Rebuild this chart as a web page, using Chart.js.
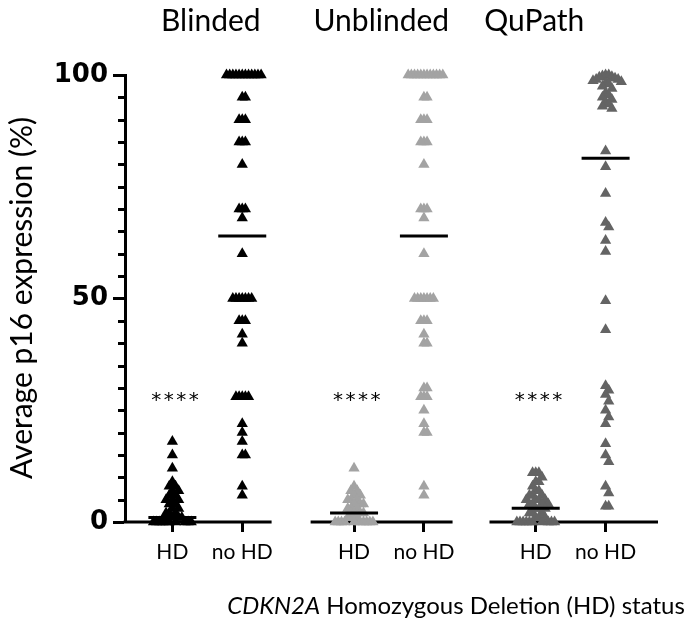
<!DOCTYPE html>
<html><head><meta charset="utf-8">
<script src="https://cdn.jsdelivr.net/npm/chart.js@4"></script>
<style>html,body{margin:0;padding:0;background:#fff}#wrap{width:685px;height:628px}</style>
</head><body><div id="wrap"><canvas id="c" width="685" height="628"></canvas></div>
<script>
// ---- data ----
const methods = ['Blinded', 'Unblinded', 'QuPath'];
const categories = ['HD', 'no HD'];
const yTickValues = [0, 50, 100];
const blindedHD = [18, 15, 12, 9, 8, 8, 7, 7, 6, 6, 5, 5, 5, 4, 4, 3, 3, 2, 2, 2, 1, 1, 1, 0, 0, 0, 0, 0, 0, 0, 0, 0, 0];
const blindedNoHD = [100, 100, 100, 100, 100, 100, 100, 100, 100, 100, 100, 100, 95, 95, 90, 90, 90, 85, 85, 85, 80, 70, 70, 70, 68, 60,
  50, 50, 50, 50, 50, 50, 50, 45, 45, 45, 42, 40, 28, 28, 28, 28, 28, 22, 20, 18, 15, 15, 8, 6];
const unblindedHD = [12, 8, 7, 7, 6, 6, 5, 5, 5, 4, 4, 4, 3, 3, 3, 2, 2, 2, 1, 1, 1, 0, 0, 0, 0, 0, 0, 0, 0, 0, 0];
const unblindedNoHD = [100, 100, 100, 100, 100, 100, 100, 100, 100, 100, 100, 100, 95, 95, 90, 90, 90, 85, 85, 85, 80, 70, 70, 70, 68, 60,
  50, 50, 50, 50, 50, 50, 50, 45, 45, 45, 42, 40, 40, 30, 30, 28, 28, 28, 25, 22, 20, 20, 8, 6];
const qupathHD = [11, 11, 11, 10, 9, 9, 8, 7, 7, 6, 6, 6, 5, 5, 5, 5, 4, 4, 4, 4, 3, 3, 3, 2, 2, 2, 1, 1, 1, 0, 0, 0, 0, 0, 0, 0, 0, 0, 0];
const qupathNoHD = [100, 100, 99.8, 99.6, 99.5, 99.3, 99, 99, 98.7, 98.5, 98.2, 98, 97.5, 97, 96, 95.5, 95, 94.5, 94, 93.5, 93, 92.5,
  83, 79.5, 73.5, 67, 66, 63, 60.5, 49.5, 43, 30.5, 29.5, 28.5, 27, 25, 23.5, 22, 17.5, 15, 13.5, 8, 6.5, 3.5, 3.5];
const medians = [1, 64, 2, 64, 3.1, 81.4];
const significance = ['****', '****', '****'];
const significanceLevel = 28;

// ---- layout / style ----
const xPos = [0, 1, 2.6, 3.6, 5.2, 6.2];
const axisSegments = [[-0.678, 1.42], [2.0, 4.01], [4.56, 6.95]];
const titleX = [0.55, 2.99, 5.18];
const colors = ['#000000', '#a3a3a3', '#646464'];
const series = [blindedHD, blindedNoHD, unblindedHD, unblindedNoHD, qupathHD, qupathNoHD];
const tickLabels = xPos.map((_, i) => categories[i % 2]);

function swarm(values, center) {
  const SLOT = 0.045, YTOL = 1.6;
  const sorted = values.slice().sort((a, b) => b - a);
  const placed = [];
  return sorted.map(v => {
    for (let i = 0; ; i++) {
      const slot = i === 0 ? 0 : (i % 2 === 1 ? (i + 1) / 2 : -(i / 2));
      if (!placed.some(p => p.slot === slot && Math.abs(p.v - v) < YTOL)) {
        placed.push({ slot, v });
        return { x: center + slot * SLOT, y: v };
      }
    }
  });
}

const datasets = [{
  label: 'median',
  data: medians.map((m, i) => ({ x: xPos[i], y: m })),
  pointStyle: 'line', pointRadius: 24, pointBorderWidth: 3,
  borderColor: '#000', backgroundColor: '#000', clip: false
}];
series.forEach((vals, i) => {
  const c = colors[Math.floor(i / 2)];
  datasets.push({
    label: methods[Math.floor(i / 2)] + ' ' + categories[i % 2],
    data: swarm(vals, xPos[i]),
    pointStyle: 'triangle', pointRadius: 6.5, pointBorderWidth: 0,
    backgroundColor: c, borderColor: c, clip: false
  });
});

const decor = {
  id: 'decor',
  beforeDatasetsDraw(chart) {
    const ctx = chart.ctx, x = chart.scales.x, y = chart.scales.y;
    ctx.save();
    ctx.strokeStyle = '#000';
    ctx.lineWidth = 3;
    for (let v = 5; v < 100; v += 5) {
      if (v % 50 === 0) continue;
      const py = Math.round(y.getPixelForValue(v)) + 0.5;
      ctx.beginPath();
      ctx.moveTo(x.left - 7, py);
      ctx.lineTo(x.left, py);
      ctx.stroke();
    }
    const by = y.getPixelForValue(0);
    axisSegments.forEach(([a, b]) => {
      ctx.beginPath();
      ctx.moveTo(x.getPixelForValue(a) - 1.5, by);
      ctx.lineTo(x.getPixelForValue(b), by);
      ctx.stroke();
    });
    ctx.restore();
  },
  afterDraw(chart) {
    const ctx = chart.ctx, x = chart.scales.x, y = chart.scales.y;
    ctx.save();
    ctx.fillStyle = '#000';
    ctx.textAlign = 'center';
    ctx.textBaseline = 'middle';
    ctx.font = '30px Lato';
    methods.forEach((m, i) => ctx.fillText(m, x.getPixelForValue(titleX[i]), 21));
    ctx.font = '20px "DejaVu Sans"';
    ctx.letterSpacing = '2.5px';
    significance.forEach((s, i) => ctx.fillText(s, x.getPixelForValue(xPos[i * 2]) + 4, y.getPixelForValue(significanceLevel) + 4));
    ctx.letterSpacing = '0px';
    ctx.save();
    ctx.translate(22, 298);
    ctx.rotate(-Math.PI / 2);
    ctx.font = '30px Lato';
    ctx.fillText('Average p16 expression (%)', 0, 0);
    ctx.restore();
    ctx.textAlign = 'left';
    const p1 = 'CDKN2A', p2 = ' Homozygous Deletion (HD) status';
    ctx.font = 'italic 24px Lato';
    const w1 = ctx.measureText(p1).width;
    ctx.font = '24px Lato';
    const w2 = ctx.measureText(p2).width;
    const sx = 456 - (w1 + w2) / 2;
    ctx.font = 'italic 24px Lato';
    ctx.fillText(p1, sx, 606);
    ctx.font = '24px Lato';
    ctx.fillText(p2, sx + w1, 606);
    ctx.restore();
  }
};

new Chart(document.getElementById('c'), {
  type: 'scatter',
  data: { datasets },
  options: {
    responsive: false,
    animation: false,
    devicePixelRatio: 1,
    layout: { padding: { top: 75, right: 20, left: 0, bottom: 0 } },
    plugins: { legend: { display: false }, tooltip: { enabled: false } },
    scales: {
      x: {
        type: 'linear', min: -0.678, max: 6.95,
        afterBuildTicks: s => { s.ticks = xPos.map(v => ({ value: v })); },
        afterFit: s => { s.height = 106; },
        ticks: { autoSkip: false, maxRotation: 0, callback: (v, i) => tickLabels[i], font: { family: 'Lato', size: 21 }, color: '#000', padding: 8 },
        grid: { drawOnChartArea: false, drawTicks: true, tickLength: 10, tickWidth: 3, tickColor: '#000' },
        border: { display: false }
      },
      y: {
        type: 'linear', min: 0, max: 100,
        afterBuildTicks: s => { s.ticks = yTickValues.map(v => ({ value: v })); },
        afterFit: s => { s.width = 125; },
        ticks: { font: { family: 'DejaVu Sans', size: 26, weight: 'bold' }, color: '#000', padding: 5 },
        grid: { drawOnChartArea: false, drawTicks: true, tickLength: 12, tickWidth: 3, tickColor: '#000' },
        border: { display: true, width: 3, color: '#000' }
      }
    }
  },
  plugins: [decor]
});
</script></body></html>
